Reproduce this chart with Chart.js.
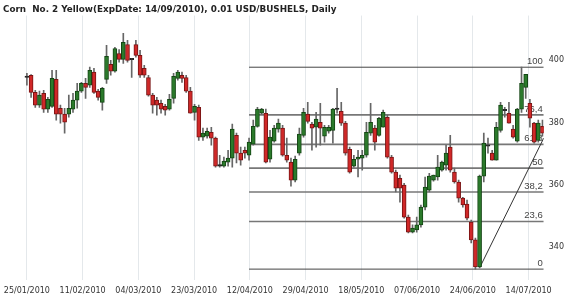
<!DOCTYPE html>
<html>
<head>
<meta charset="utf-8">
<script src="https://cdn.jsdelivr.net/npm/chart.js@4.4.0/dist/chart.umd.min.js"></script>
<style>
  html, body { margin: 0; padding: 0; background: #fff; }
  #wrap { width: 570px; height: 298px; }
</style>
</head>
<body>
<div id="wrap"><canvas id="corn"></canvas></div>
<script>
// daily OHLC, one entry per trading day from 25/01/2010
const opens = [
  394.5, 395.2, 389.7, 385.6, 389.4, 384.3, 385.2, 393.9, 384.6, 382.7,
  382.7, 384.3, 387.2, 390.1, 392.6, 392.0, 396.2, 390.1, 386.5, 393.9,
  398.7, 396.5, 402.2, 400.3, 405.1, 400.3, 405.1, 401.6, 397.4, 394.5,
  388.8, 387.2, 386.2, 385.2, 384.3, 387.8, 394.2, 395.2, 394.5, 390.1,
  383.3, 384.9, 375.3, 375.6, 376.9, 375.0, 366.0, 366.0, 367.3, 368.6,
  375.9, 370.2, 371.1, 369.5, 373.1, 378.8, 383.0, 383.0, 368.2, 374.0,
  377.9, 378.2, 369.5, 367.3, 361.5, 370.2, 375.9, 382.7, 379.5, 378.5,
  380.1, 375.6, 377.2, 377.5, 384.3, 383.6, 379.8, 371.4, 366.0, 368.2,
  368.6, 369.5, 376.6, 378.2, 375.9, 378.5, 381.7, 368.9, 364.1, 362.1,
  359.9, 349.6, 344.8, 345.5, 347.1, 352.8, 358.3, 361.5, 362.5, 364.7,
  366.3, 372.1, 364.1, 360.9, 355.7, 353.8, 348.0, 342.3, 333.6, 362.8,
  372.7, 370.2, 367.9, 377.5, 384.0, 383.0, 377.9, 374.0, 384.3, 391.3,
  386.2, 379.8, 374.3, 378.8
];
const highs = [
  395.8, 395.4, 390.4, 390.1, 390.4, 388.1, 396.8, 396.8, 385.6, 384.6,
  388.8, 389.4, 392.6, 392.9, 394.2, 397.8, 397.4, 390.7, 391.3, 404.8,
  400.0, 404.2, 403.5, 408.7, 406.4, 400.6, 406.4, 403.2, 398.4, 395.2,
  389.4, 388.1, 387.2, 385.9, 389.1, 395.8, 396.8, 396.2, 395.2, 391.3,
  385.9, 385.6, 378.2, 378.2, 378.5, 375.3, 369.5, 368.9, 371.1, 379.5,
  376.6, 372.1, 372.1, 375.0, 380.8, 384.9, 384.6, 384.3, 377.5, 379.1,
  381.1, 379.1, 375.0, 368.6, 369.2, 378.2, 384.6, 386.5, 380.1, 383.3,
  386.2, 379.1, 379.1, 384.6, 391.0, 386.5, 380.4, 372.1, 369.5, 371.1,
  371.1, 380.1, 386.2, 379.1, 381.7, 384.0, 382.4, 369.5, 364.7, 363.1,
  360.5, 350.3, 347.1, 349.6, 353.5, 362.5, 363.7, 363.1, 369.5, 367.6,
  372.7, 375.9, 365.4, 361.5, 356.0, 355.1, 348.7, 342.9, 363.1, 376.6,
  375.0, 371.1, 380.1, 386.5, 384.9, 386.5, 379.1, 384.6, 397.8, 395.5,
  387.5, 380.1, 380.8, 380.8
];
const lows = [
  392.0, 388.1, 384.9, 384.9, 383.3, 383.3, 384.9, 380.8, 379.8, 376.6,
  381.7, 383.3, 384.6, 389.7, 387.8, 391.3, 389.4, 387.2, 384.0, 392.6,
  395.2, 396.2, 399.4, 399.0, 399.4, 394.5, 401.0, 394.5, 394.5, 388.5,
  383.0, 382.4, 383.0, 382.4, 384.0, 386.2, 393.6, 392.9, 389.7, 383.0,
  380.8, 374.3, 374.3, 375.0, 372.7, 365.7, 365.7, 365.7, 366.0, 365.7,
  367.0, 366.3, 368.6, 367.9, 372.7, 378.5, 382.7, 367.0, 367.3, 373.7,
  376.9, 369.2, 367.3, 359.6, 360.9, 369.5, 375.3, 379.8, 371.1, 372.1,
  372.7, 373.7, 376.6, 373.4, 383.0, 379.1, 369.5, 363.7, 365.7, 362.5,
  364.7, 368.9, 375.9, 371.1, 375.6, 378.5, 368.6, 363.7, 357.7, 354.4,
  349.3, 344.5, 344.5, 344.8, 346.4, 351.9, 357.7, 361.2, 361.5, 364.4,
  364.7, 364.1, 360.5, 354.4, 352.8, 348.7, 341.3, 332.9, 333.3, 360.9,
  370.2, 367.9, 367.9, 376.9, 381.7, 379.8, 375.0, 373.7, 383.3, 387.8,
  378.5, 373.4, 373.7, 375.6
];
const closes = [
  394.6, 389.7, 385.6, 388.8, 384.3, 387.5, 394.2, 382.7, 382.7, 380.1,
  384.6, 387.2, 390.1, 392.6, 391.3, 396.8, 389.7, 388.1, 391.0, 401.3,
  396.5, 403.8, 400.3, 405.8, 400.0, 400.2, 401.6, 395.2, 395.2, 388.8,
  385.6, 385.6, 384.3, 384.0, 387.5, 394.9, 396.2, 394.2, 390.1, 383.0,
  385.2, 375.3, 376.6, 377.2, 375.0, 366.0, 366.1, 367.6, 368.6, 377.9,
  370.2, 367.9, 370.2, 373.7, 378.8, 384.3, 384.3, 367.3, 375.3, 378.2,
  379.8, 369.5, 367.9, 361.5, 368.2, 376.3, 383.3, 380.4, 378.2, 381.1,
  378.2, 378.5, 378.5, 384.3, 384.2, 379.8, 370.2, 364.1, 368.2, 368.9,
  369.5, 376.9, 380.1, 373.7, 381.4, 383.3, 368.9, 364.1, 358.9, 358.9,
  349.6, 344.8, 346.1, 347.1, 352.8, 359.3, 362.8, 363.1, 365.7, 367.3,
  370.2, 364.7, 360.9, 355.7, 353.5, 349.3, 342.3, 333.6, 362.8, 373.4,
  372.4, 367.9, 378.5, 385.6, 383.8, 379.8, 375.3, 384.3, 392.6, 395.5,
  381.4, 373.7, 379.8, 376.6
];

const dateLabels = ['25/01/2010', '11/02/2010', '04/03/2010', '23/03/2010', '12/04/2010',
                    '29/04/2010', '18/05/2010', '07/06/2010', '24/06/2010', '14/07/2010'];
const priceTicks = [340, 360, 380, 400];

// fibonacci retracement drawn from 12/04/2010 on
const fibLevels = [0, 23.6, 38.2, 50, 61.8, 76.4, 100];
const fibStart = 53;
const trendLine = [{x: 108, y: 333.3}, {x: 123.3, y: 375}];

const labelStep = 13.3;
const X_MIN = -5.7, X_MAX = 123.3;

const fibLow = Math.min(...lows.slice(fibStart));
const fibHigh = Math.max(...highs.slice(fibStart));
const fibPrice = p => fibLow + (fibHigh - fibLow) * p / 100;

const idx = opens.map((o, i) => i);
const isDoji = i => Math.abs(opens[i] - closes[i]) < 0.35;
const fillColor = i => isDoji(i) ? '#222' : (closes[i] >= opens[i] ? '#2b7a2b' : '#d02828');
const edgeColor = i => isDoji(i) ? '#222' : (closes[i] >= opens[i] ? '#144614' : '#7a1414');

const fibSets = fibLevels.map(p => ({
  type: 'line',
  data: [{x: fibStart, y: fibPrice(p)}, {x: X_MAX, y: fibPrice(p)}],
  borderColor: (p === 0 || p === 100) ? '#444' : '#777',
  borderWidth: (p === 0 || p === 100) ? 1 : 1.6,
  pointRadius: 0,
  order: 5
}));

const fibText = {
  id: 'fibText',
  beforeDatasetsDraw(chart) {
    const {ctx, chartArea, scales} = chart;
    ctx.save();
    ctx.font = '9.5px "Liberation Sans", Arial, sans-serif';
    ctx.fillStyle = '#444';
    ctx.textAlign = 'right';
    ctx.textBaseline = 'bottom';
    fibLevels.forEach(p => {
      ctx.fillText(String(p).replace('.', ','), chartArea.right - 1, scales.y.getPixelForValue(fibPrice(p)) - 1);
    });
    ctx.restore();
  }
};

new Chart(document.getElementById('corn'), {
  data: {
    datasets: [
      ...fibSets,
      {
        type: 'line',
        data: trendLine,
        borderColor: '#333',
        borderWidth: 1,
        pointRadius: 0,
        order: 4
      },
      {
        type: 'bar',
        data: idx.map(i => ({x: i, y: [lows[i], highs[i]]})),
        backgroundColor: '#666',
        barThickness: 1,
        grouped: false,
        order: 3
      },
      {
        type: 'bar',
        data: idx.map(i => ({x: i, y: [opens[i], closes[i]]})),
        backgroundColor: idx.map(fillColor),
        borderColor: idx.map(edgeColor),
        borderWidth: 1,
        borderSkipped: false,
        barThickness: 4,
        minBarLength: 1.5,
        grouped: false,
        order: 2
      }
    ]
  },
  options: {
    responsive: true,
    maintainAspectRatio: false,
    animation: false,
    layout: { padding: { left: 3, right: 1, top: 0, bottom: 2 } },
    plugins: {
      legend: { display: false },
      tooltip: { enabled: false },
      title: {
        display: true,
        text: 'Corn  No. 2 Yellow(ExpDate: 14/09/2010), 0.01 USD/BUSHELS, Daily',
        align: 'start',
        color: '#222',
        font: { family: 'DejaVu Sans', size: 8.8, weight: 'bold' },
        padding: { top: 4, bottom: 1 }
      }
    },
    scales: {
      x: {
        type: 'linear',
        offset: false,
        min: X_MIN,
        max: X_MAX,
        afterBuildTicks: axis => {
          axis.ticks = dateLabels.map((l, k) => ({value: k * labelStep}));
        },
        afterFit: axis => {
          axis.paddingLeft = 0;
          axis.paddingRight = 0;
          axis.height = 16;
        },
        grid: { color: '#e4e8eb', drawTicks: false, offset: false },
        border: { display: false },
        ticks: {
          autoSkip: false,
          maxRotation: 0,
          padding: 6,
          color: '#333',
          font: { family: 'DejaVu Sans', size: 8 },
          callback: (v, i) => dateLabels[i]
        }
      },
      y: {
        position: 'right',
        min: 329.4,
        max: 414.4,
        afterBuildTicks: axis => {
          axis.ticks = priceTicks.map(v => ({value: v}));
        },
        afterFit: axis => {
          axis.paddingTop = 0;
          axis.paddingBottom = 0;
        },
        grid: { display: false, drawTicks: false },
        border: { display: false },
        ticks: {
          padding: 5,
          color: '#333',
          font: { family: 'DejaVu Sans', size: 8 }
        }
      }
    }
  },
  plugins: [fibText]
});
</script>
</body>
</html>
